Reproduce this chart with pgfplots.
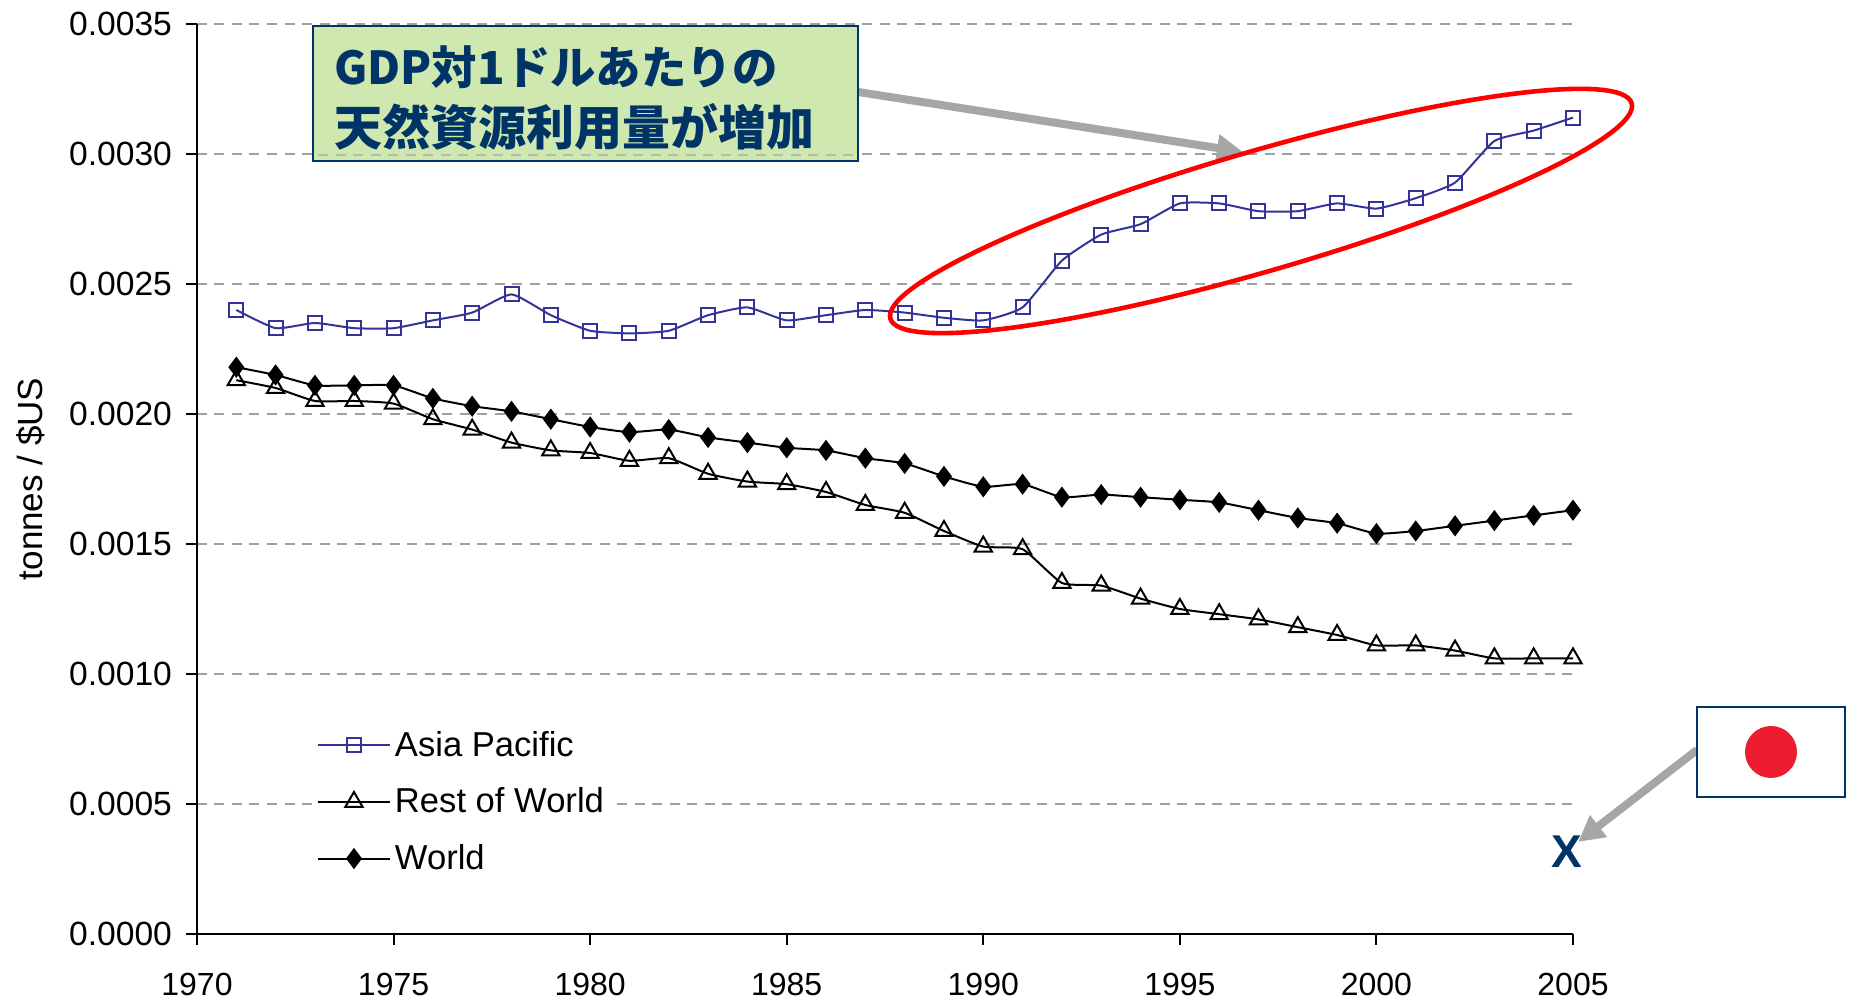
\documentclass[border=0pt]{standalone}
\usepackage{pgfplots}
\pgfplotsset{compat=1.18}
\usepackage{fontspec}
\setmainfont{Liberation Sans}
\newfontfamily\cjk{Noto Sans CJK JP}
\usetikzlibrary{arrows.meta}
\definecolor{apblue}{HTML}{333399}
\definecolor{gridgray}{HTML}{A0A0A0}
\definecolor{arrowgray}{HTML}{A6A6A6}
\definecolor{navy}{HTML}{003366}
\definecolor{boxgreen}{HTML}{CFE8B0}
\definecolor{flagred}{HTML}{ED1C2E}
\begin{document}
\begin{tikzpicture}[x=0.5pt,y=0.5pt]
\useasboundingbox (0,0) rectangle (1854,1004);
\begin{axis}[
  at={(98.5pt,35pt)}, anchor=south west,
  scale only axis, width=688pt, height=455pt,
  xmin=1970, xmax=2005, ymin=0, ymax=0.0035,
  axis x line*=bottom, axis y line*=left,
  axis line style={black,line width=1pt,-},
  xtick={1970,1975,...,2005},
  ytick={0,0.0005,0.001,0.0015,0.002,0.0025,0.003,0.0035},
  scaled y ticks=false,
  tick align=outside, major tick length=5.5pt,
  tick style={black,line width=1pt},
  xticklabel style={/pgf/number format/1000 sep={},/pgf/number format/assume math mode=true,font=\fontsize{16}{18}\selectfont,yshift=-10.5pt},
  yticklabel style={/pgf/number format/fixed,/pgf/number format/fixed zerofill,/pgf/number format/precision=4,/pgf/number format/assume math mode=true,font=\fontsize{16.8}{18}\selectfont,xshift=-3.5pt},
  ymajorgrids,
  grid style={gridgray,line width=1.4pt,dash pattern=on 5pt off 3.75pt},
  ylabel={tonnes / \$US},
  ylabel style={font=\fontsize{17.5}{18}\selectfont,at={(axis description cs:-0.121,0.5)},anchor=center},
  clip=false,
  legend style={at={(axis cs:1972.94,0.000804)},anchor=north west,draw=none,fill=white,
    font=\fontsize{17.3}{18}\selectfont,row sep=10.25pt,inner xsep=2pt,inner ysep=1pt},
  legend cell align=left,
  legend image code/.code={
    \draw[#1,mark=none] (0,0) -- (36pt,0);
    \path plot[#1,only marks] coordinates {(18pt,0)};
  },
]
\addplot[apblue,line width=1pt,smooth,tension=0.3,mark=square,mark size=3.5pt,mark options={solid,apblue,line width=1pt,fill=none}] table {
1971 0.00240
1972 0.00233
1973 0.00235
1974 0.00233
1975 0.00233
1976 0.00236
1977 0.00239
1978 0.00246
1979 0.00238
1980 0.00232
1981 0.00231
1982 0.00232
1983 0.00238
1984 0.00241
1985 0.00236
1986 0.00238
1987 0.00240
1988 0.00239
1989 0.00237
1990 0.00236
1991 0.00241
1992 0.00259
1993 0.00269
1994 0.00273
1995 0.00281
1996 0.00281
1997 0.00278
1998 0.00278
1999 0.00281
2000 0.00279
2001 0.00283
2002 0.00289
2003 0.00305
2004 0.00309
2005 0.00314
};
\addlegendentry{Asia Pacific}
\addplot[black,line width=1pt,smooth,tension=0.3,mark=triangle,mark size=5pt,mark options={solid,black,line width=1pt,fill=none}] table {
1971 0.00213
1972 0.00210
1973 0.00205
1974 0.00205
1975 0.00204
1976 0.00198
1977 0.00194
1978 0.00189
1979 0.00186
1980 0.00185
1981 0.00182
1982 0.00183
1983 0.00177
1984 0.00174
1985 0.00173
1986 0.00170
1987 0.00165
1988 0.00162
1989 0.00155
1990 0.00149
1991 0.00148
1992 0.00135
1993 0.00134
1994 0.00129
1995 0.00125
1996 0.00123
1997 0.00121
1998 0.00118
1999 0.00115
2000 0.00111
2001 0.00111
2002 0.00109
2003 0.00106
2004 0.00106
2005 0.00106
};
\addlegendentry{Rest of World}
\addplot[black,line width=1pt,smooth,tension=0.3,mark=diamond*,mark size=4.5pt,mark options={solid,black,fill=black}] table {
1971 0.00218
1972 0.00215
1973 0.00211
1974 0.00211
1975 0.00211
1976 0.00206
1977 0.00203
1978 0.00201
1979 0.00198
1980 0.00195
1981 0.00193
1982 0.00194
1983 0.00191
1984 0.00189
1985 0.00187
1986 0.00186
1987 0.00183
1988 0.00181
1989 0.00176
1990 0.00172
1991 0.00173
1992 0.00168
1993 0.00169
1994 0.00168
1995 0.00167
1996 0.00166
1997 0.00163
1998 0.00160
1999 0.00158
2000 0.00154
2001 0.00155
2002 0.00157
2003 0.00159
2004 0.00161
2005 0.00163
};
\addlegendentry{World}
\addplot[draw=none,forget plot,mark=text,text mark={\fontsize{23}{23}\selectfont\bfseries\textcolor{navy}{X}}] coordinates {(2004.85,0.000315)};
\end{axis}
% callout arrow and box
\draw[arrowgray,line width=4pt,-{Triangle[length=13pt,width=13pt]}] (858,912) -- (1243,852);
\draw[navy,line width=0.8pt,fill=boxgreen] (313,978) rectangle (858,843);
\draw[gridgray!60!boxgreen,line width=1.4pt,dash pattern=on 5pt off 3.75pt] (318,849) -- (854,849);
\node[anchor=west,text=navy,font=\fontsize{22.7}{25}\selectfont\cjk\bfseries,inner sep=0pt] at (334,937) {GDP対1ドルあたりの};
\node[anchor=west,text=navy,font=\fontsize{24}{25}\selectfont\cjk\bfseries,inner sep=0pt] at (334,877) {天然資源利用量が増加};
% red ellipse
\draw[red,line width=2.3pt,rotate around={16.2:(1261,793)}] (1261,793) ellipse [x radius=193pt,y radius=30pt];
% flag
\draw[arrowgray,line width=4pt,-{Triangle[length=13pt,width=13pt]}] (1697,254) -- (1578,162);
\draw[navy,line width=0.8pt,fill=white] (1697,297) rectangle (1845,207);
\fill[flagred] (1771,252) circle [radius=13pt];
\end{tikzpicture}
\end{document}
